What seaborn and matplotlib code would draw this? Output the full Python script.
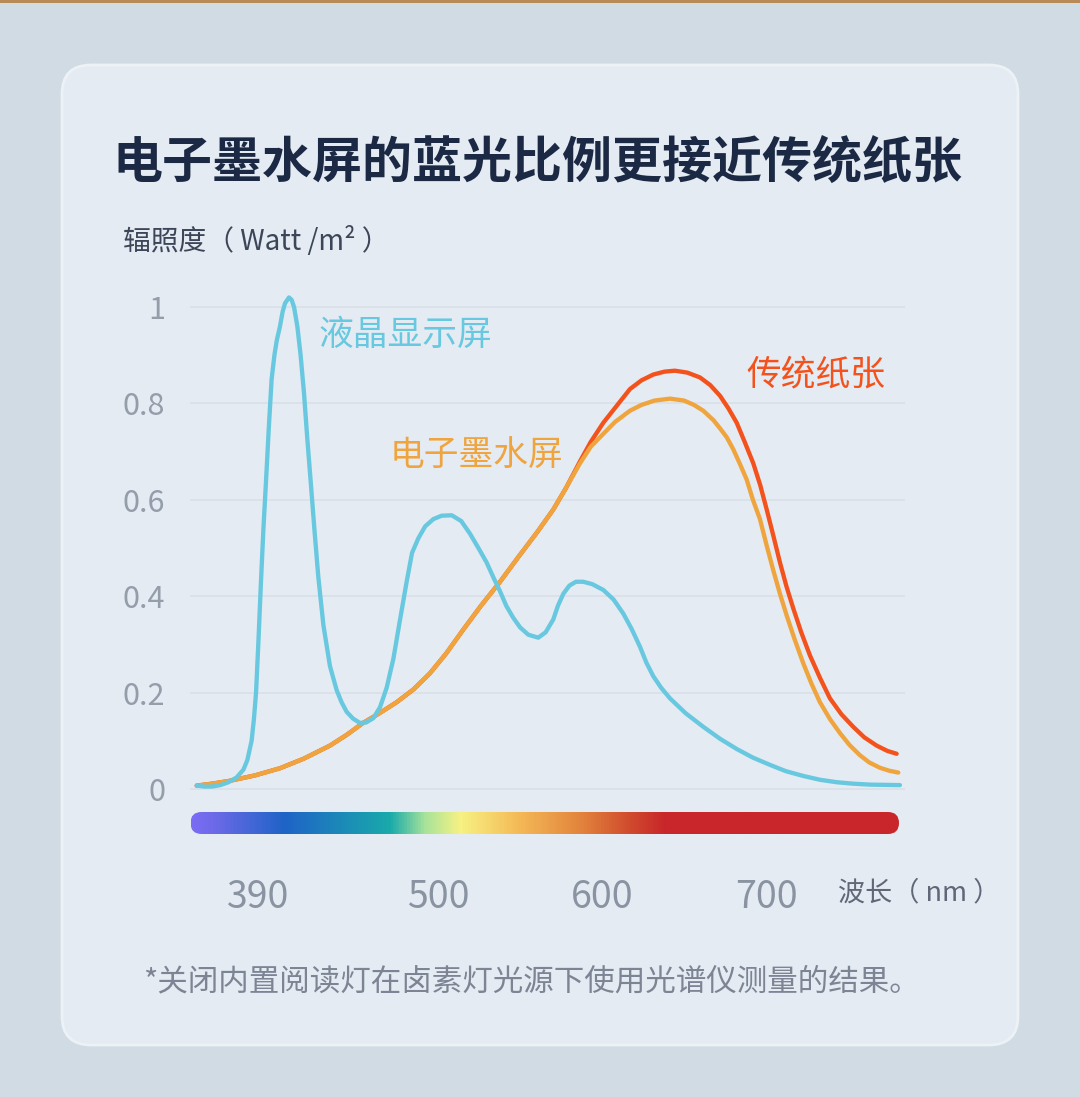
import numpy as np
import matplotlib
matplotlib.use("Agg")
import matplotlib.pyplot as plt
from matplotlib.colors import LinearSegmentedColormap
from matplotlib.patches import FancyBboxPatch, Rectangle
import seaborn as sns

# ---- data ----
lcd_nm = [352.6, 357.0, 362.0, 367.0, 372.0, 377.0, 381.1, 383.5, 386.1, 387.5,
          388.8, 390.3, 391.8, 393.3, 394.9, 396.6, 398.3, 400.0, 401.4, 403.4,
          405.0, 406.5, 408.9, 410.5, 412.0, 414.0, 416.0, 418.1, 420.0, 422.1,
          424.5, 426.8, 429.9, 433.9, 438.0, 441.0, 444.1, 448.0, 452.2, 456.0,
          460.4, 464.5, 468.5, 472.6, 476.6, 480.7, 484.0, 487.8, 492.0, 497.0,
          502.0, 508.2, 514.0, 519.3, 524.5, 529.5, 533.5, 537.7, 541.5, 545.8,
          550.0, 555.0, 561.0, 565.5, 570.2, 573.0, 576.3, 580.0, 584.0, 588.5,
          594.0, 600.7, 607.0, 612.9, 618.0, 623.1, 627.0, 631.2, 636.0, 641.4,
          651.0, 661.7, 672.0, 682.1, 692.0, 702.4, 712.0, 722.7, 733.0, 743.1,
          753.0, 763.4, 781.7]
lcd_irr = [0.007, 0.005, 0.005, 0.008, 0.014, 0.024, 0.040, 0.060, 0.100, 0.145,
           0.200, 0.310, 0.430, 0.540, 0.640, 0.750, 0.850, 0.900, 0.930, 0.960,
           0.990, 1.008, 1.020, 1.015, 1.000, 0.960, 0.900, 0.820, 0.730, 0.640,
           0.535, 0.440, 0.340, 0.255, 0.205, 0.180, 0.160, 0.146, 0.137, 0.138,
           0.147, 0.170, 0.210, 0.270, 0.350, 0.430, 0.490, 0.520, 0.545, 0.560,
           0.567, 0.568, 0.556, 0.530, 0.500, 0.470, 0.440, 0.410, 0.380, 0.355,
           0.335, 0.320, 0.314, 0.325, 0.352, 0.380, 0.405, 0.422, 0.430, 0.430,
           0.425, 0.413, 0.393, 0.364, 0.332, 0.295, 0.262, 0.234, 0.210, 0.188,
           0.157, 0.129, 0.104, 0.083, 0.065, 0.050, 0.037, 0.027, 0.019, 0.014,
           0.011, 0.009, 0.008]

eink_nm = [352.6, 362.0, 372.9, 388.0, 403.4, 418.0, 433.9, 444.0, 454.1, 464.0,
           474.6, 485.0, 494.9, 505.0, 515.1, 526.0, 537.7, 549.0, 560.8, 570.2,
           578.0, 586.5, 593.0, 600.7, 608.0, 617.0, 624.0, 632.0, 641.4, 650.0,
           656.0, 661.7, 668.0, 672.0, 676.0, 680.0, 684.0, 688.2, 692.0, 696.3,
           700.4, 704.4, 708.5, 712.6, 717.5, 722.7, 727.8, 732.9, 739.0, 745.1,
           751.0, 757.3, 763.0, 769.5, 775.0, 780.7]
eink_irr = [0.007, 0.011, 0.017, 0.028, 0.043, 0.063, 0.090, 0.112, 0.137, 0.157,
            0.180, 0.207, 0.240, 0.282, 0.330, 0.380, 0.430, 0.482, 0.535, 0.580,
            0.625, 0.676, 0.710, 0.737, 0.762, 0.785, 0.797, 0.806, 0.810, 0.806,
            0.797, 0.785, 0.765, 0.748, 0.730, 0.705, 0.675, 0.642, 0.600, 0.560,
            0.505, 0.454, 0.405, 0.360, 0.310, 0.261, 0.218, 0.180, 0.145, 0.116,
            0.091, 0.070, 0.055, 0.044, 0.038, 0.034]

paper_nm = [352.6, 362.0, 372.9, 388.0, 403.4, 418.0, 433.9, 444.0, 454.1, 464.0,
            474.6, 485.0, 494.9, 505.0, 515.1, 526.0, 537.7, 549.0, 560.8, 570.2,
            578.0, 586.5, 593.0, 600.7, 610.0, 617.0, 624.0, 631.2, 638.0, 644.4,
            652.0, 659.7, 666.0, 671.9, 677.0, 682.1, 687.0, 692.2, 696.5, 700.4,
            704.5, 708.5, 712.5, 716.6, 721.5, 726.8, 733.0, 739.0, 746.0, 753.2,
            760.0, 767.5, 774.0, 779.7]
paper_irr = [0.007, 0.011, 0.017, 0.028, 0.043, 0.063, 0.090, 0.112, 0.137, 0.157,
             0.180, 0.207, 0.240, 0.282, 0.330, 0.380, 0.430, 0.482, 0.535, 0.580,
             0.625, 0.680, 0.720, 0.760, 0.800, 0.830, 0.848, 0.860, 0.866, 0.868,
             0.864, 0.854, 0.838, 0.816, 0.790, 0.760, 0.720, 0.676, 0.630, 0.580,
             0.525, 0.470, 0.420, 0.375, 0.325, 0.277, 0.230, 0.188, 0.155, 0.129,
             0.107, 0.090, 0.079, 0.073]

y_ticks = [0, 0.2, 0.4, 0.6, 0.8, 1]
y_tick_labels = ["0", "0.2", "0.4", "0.6", "0.8", "1"]
x_ticks = [390, 500, 600, 700]
x_tick_labels = ["390", "500", "600", "700"]

spectrum_stops = [0.0, 0.03, 0.13, 0.28, 0.33, 0.38, 0.46, 0.55, 0.62, 0.67, 1.0]
spectrum_colors = ["#7b6cf4", "#6d6ae8", "#1f63c7", "#19aaab", "#a8e39a", "#f7f283",
                   "#f5bb58", "#e2843c", "#d04a2e", "#c8262a", "#c8262a"]

# ---- colours ----
OUTER_BG = "#d0dbe3"
CARD_BG = "#e4ebf2"
GRID = "#d8e0e8"
LCD_COLOR = "#68c8df"
EINK_COLOR = "#f0a43e"
PAPER_COLOR = "#f4521c"

sns.set_style("white")
plt.rcParams["font.family"] = ["Noto Sans CJK SC", "DejaVu Sans"]

W, H = 1080, 1097
fig = plt.figure(figsize=(W / 100, H / 100), dpi=100, facecolor=OUTER_BG)

def fx(px):
    return px / W

def fy(py):
    return 1 - py / H

# top wood strip and card (kept behind the axes)
fig.patches.append(Rectangle((0, fy(3)), 1, 3 / H, transform=fig.transFigure,
                             facecolor="#b88a58", edgecolor="none", zorder=-10))
card = FancyBboxPatch((fx(62), fy(1045)), 956 / W, 980 / H,
                      boxstyle="round,pad=0,rounding_size=0.027",
                      mutation_aspect=W / H, transform=fig.transFigure,
                      facecolor=CARD_BG, edgecolor="#edf2f6", linewidth=2, zorder=-10)
fig.patches.append(card)

# main axes: y=0 at px 789, y=1 at px 307
ax = fig.add_axes([fx(190), fy(798.6), 715 / W, (798.6 - 283) / H])
ax.set_facecolor("none")

line_kw = dict(linewidth=3.1, solid_capstyle="round", solid_joinstyle="round")
sns.lineplot(x=paper_nm, y=paper_irr, ax=ax, color=PAPER_COLOR, zorder=3, **line_kw)
sns.lineplot(x=eink_nm, y=eink_irr, ax=ax, color=EINK_COLOR, zorder=4, **line_kw)
sns.lineplot(x=lcd_nm, y=lcd_irr, ax=ax, color=LCD_COLOR, zorder=5, **line_kw)

ax.set_xlim(348.5, 784.8)
ax.set_ylim(-0.02, 1.05)
ax.set_yticks(y_ticks)
ax.set_yticklabels(y_tick_labels)
ax.set_xticks(x_ticks)
ax.set_xticklabels(x_tick_labels)
ax.tick_params(axis="y", length=0, pad=18, labelsize=22, labelcolor="#959dab")
ax.tick_params(axis="x", length=0, pad=57, labelsize=27, labelcolor="#8a93a2")
for t in y_ticks:
    ax.axhline(t, color=GRID, linewidth=1.2, zorder=1)
sns.despine(ax=ax, left=True, bottom=True)
ax.set_xlabel("")
ax.set_ylabel("")

# series labels
ax.text(479.7, 0.942, "液晶显示屏", color=LCD_COLOR, fontsize=25, ha="center", va="center")
ax.text(523.6, 0.693, "电子墨水屏", color=EINK_COLOR, fontsize=25, ha="center", va="center")
ax.text(730.5, 0.859, "传统纸张", color=PAPER_COLOR, fontsize=25, ha="center", va="center")

# spectrum bar
bar_w, bar_h = 708.5, 22
bax = fig.add_axes([fx(190.5), fy(834), bar_w / W, bar_h / H])
bax.set_axis_off()
bax.set_xlim(0, bar_w)
bax.set_ylim(0, bar_h)
cmap = LinearSegmentedColormap.from_list("spec", list(zip(spectrum_stops, spectrum_colors)))
im = bax.imshow(np.linspace(0, 1, 512)[None, :], cmap=cmap, aspect="auto",
                extent=(0, bar_w, 0, bar_h))
clip = FancyBboxPatch((0, 0), bar_w, bar_h, boxstyle="round,pad=0,rounding_size=11",
                      transform=bax.transData, facecolor="none", edgecolor="none")
bax.add_patch(clip)
im.set_clip_path(clip)

# texts
fig.text(fx(112), fy(163), "电子墨水屏的蓝光比例更接近传统纸张", fontsize=36,
         fontweight="bold", color="#1c2944", va="center", ha="left")
fig.text(fx(123), fy(242), "辐照度（ Watt /m² ）", fontsize=20, color="#3d4658",
         va="center", ha="left")
fig.text(fx(838), fy(893), "波长（ nm ）", fontsize=19.5, color="#5f6778",
         va="center", ha="left")
fig.text(fx(143), fy(982), "*关闭内置阅读灯在卤素灯光源下使用光谱仪测量的结果。",
         fontsize=22, color="#7d8595", va="center", ha="left")

fig.savefig("out.png", dpi=100, facecolor=OUTER_BG)
